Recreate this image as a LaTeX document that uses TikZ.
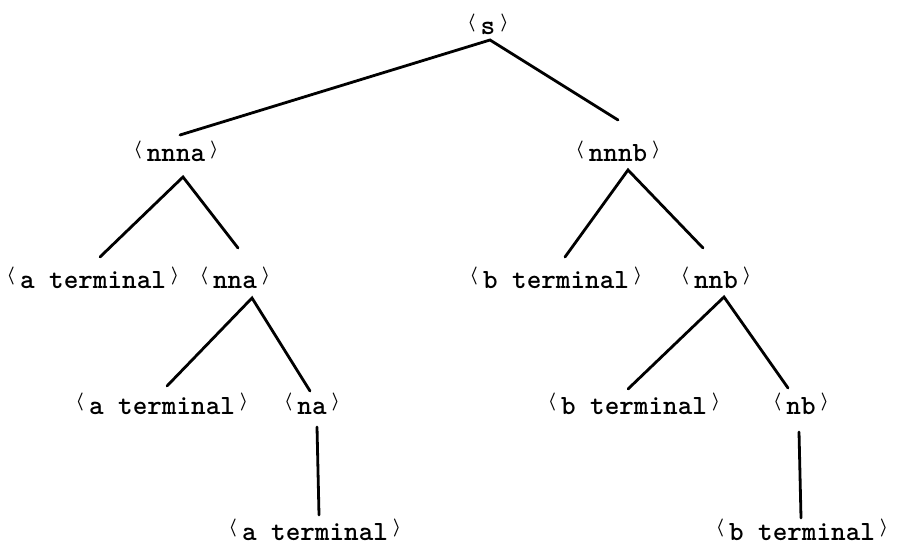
\documentclass[tikz,border=0pt]{standalone}
\usepackage{fontspec}
\newcommand{\LAng}{\raisebox{3.8pt}{\fontsize{9}{9}\selectfont\boldmath$\langle$}}
\newcommand{\RAng}{\raisebox{3.8pt}{\fontsize{9}{9}\selectfont\boldmath$\rangle$}}
\newcommand{\tlab}[1]{\LAng\hspace{2.5pt}#1\hspace{2.5pt}\RAng}
\begin{document}
\begin{tikzpicture}[x=0.5pt,y=-0.5pt,
  lbl/.style={anchor=base,inner sep=0pt,font=\ttfamily\bfseries\fontsize{13.9}{16}\selectfont},
  edge/.style={line width=1.4pt,line cap=round}]
\useasboundingbox (0,0) rectangle (898,545);
% nodes
\node[lbl] (s)     at (488,35)  {\tlab{s}};
\node[lbl] (nnna)  at (176,162) {\tlab{nnna}};
\node[lbl] (nnnb)  at (618,162) {\tlab{nnnb}};
\node[lbl] (at1)   at (93,288)  {\tlab{a terminal}};
\node[lbl] (nna)   at (235,288) {\tlab{nna}};
\node[lbl] (bt1)   at (556,288) {\tlab{b terminal}};
\node[lbl] (nnb)   at (716,288) {\tlab{nnb}};
\node[lbl] (at2)   at (162,414) {\tlab{a terminal}};
\node[lbl] (na)    at (312,414) {\tlab{na}};
\node[lbl] (bt2)   at (634,414) {\tlab{b terminal}};
\node[lbl] (nb)    at (801,414) {\tlab{nb}};
\node[lbl] (at3)   at (315,540) {\tlab{a terminal}};
\node[lbl] (bt3)   at (802,540) {\tlab{b terminal}};
% connector end points
\coordinate (s-o)    at (490,40);
\coordinate (nnna-i) at (180,135);
\coordinate (nnnb-i) at (618,120);
\coordinate (nnna-o) at (183,177);
\coordinate (at1-i)  at (100,257);
\coordinate (nna-i)  at (238,248);
\coordinate (nnnb-o) at (628,170);
\coordinate (bt1-i)  at (565,257);
\coordinate (nnb-i)  at (703,248);
\coordinate (nna-o)  at (252,298);
\coordinate (at2-i)  at (167,386);
\coordinate (na-i)   at (310,391);
\coordinate (nnb-o)  at (724,297);
\coordinate (bt2-i)  at (628,389);
\coordinate (nb-i)   at (788,388);
\coordinate (na-o)   at (317,427);
\coordinate (at3-i)  at (319,515);
\coordinate (nb-o)   at (799,432);
\coordinate (bt3-i)  at (801,518);
% connectors
\draw[edge] (nnna-i) -- (s-o) -- (nnnb-i);
\draw[edge] (at1-i) -- (nnna-o) -- (nna-i);
\draw[edge] (bt1-i) -- (nnnb-o) -- (nnb-i);
\draw[edge] (at2-i) -- (nna-o) -- (na-i);
\draw[edge] (bt2-i) -- (nnb-o) -- (nb-i);
\draw[edge] (na-o) -- (at3-i);
\draw[edge] (nb-o) -- (bt3-i);
\end{tikzpicture}
\end{document}
